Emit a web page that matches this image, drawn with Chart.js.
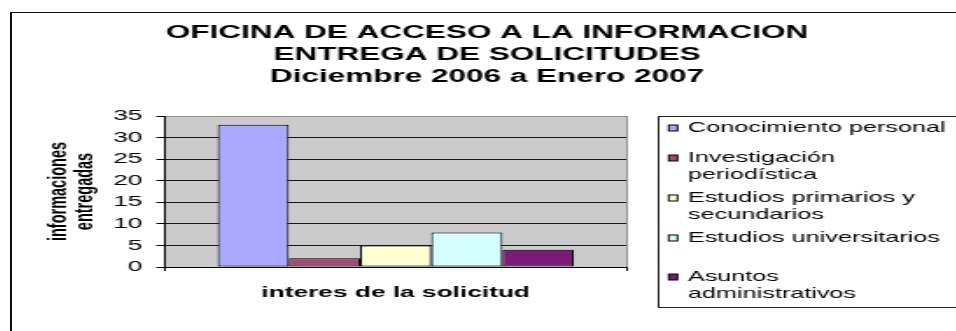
<!DOCTYPE html>
<html>
<head>
<meta charset="utf-8">
<script src="https://cdn.jsdelivr.net/npm/chart.js@4/dist/chart.umd.min.js"></script>
<style>
  html, body { margin: 0; padding: 0; background: #fff; overflow: hidden; width: 956px; height: 331px; }
  #frame { position: absolute; left: 10px; top: 12px; width: 1000px; height: 400px;
           border-left: 2px solid #111; border-top: 1px solid #111; box-sizing: border-box; }
  /* the sheet chart is drawn narrow and widened, as the spreadsheet export does */
  #wrap { position: absolute; left: 10px; top: 0; width: 545px; height: 331px;
          transform: scaleX(1.7505); transform-origin: 0 0; }
</style>
</head>
<body>
<div id="frame"></div>
<div id="wrap"><canvas id="c" width="545" height="331"></canvas></div>
<script>
// Chart text
const titleLines = ['OFICINA DE ACCESO A LA INFORMACION', 'ENTREGA DE SOLICITUDES', 'Diciembre 2006 a Enero 2007'];
const yAxisTitle = ['informaciones', 'entregadas'];
const xAxisTitle = 'interes de la solicitud';

// One category, one series per request interest
const categories = [''];
const seriesNames = [
  ['Conocimiento personal'],
  ['Investigación', 'periodística'],
  ['Estudios primarios y', 'secundarios'],
  ['Estudios universitarios'],
  ['Asuntos', 'administrativos']
];
const conocimientoPersonal = [33];
const investigacionPeriodistica = [2];
const estudiosPrimarios = [5];
const estudiosUniversitarios = [8];
const asuntosAdministrativos = [4];
const seriesValues = [conocimientoPersonal, investigacionPeriodistica, estudiosPrimarios, estudiosUniversitarios, asuntosAdministrativos];
const seriesColors = ['#A9AAFF', '#A44974', '#FFFFD5', '#D5FFFF', '#7B1A78'];

// y axis: 0 to 35 in steps of 5
const yMin = 0, yMax = 35, yStep = 5;

Chart.defaults.font.family = "'Liberation Sans', Arial, sans-serif";
Chart.defaults.color = '#000';

// grey plot area behind the bars
const plotBackground = {
  id: 'plotBackground',
  beforeDraw(chart) {
    const { ctx, chartArea: a } = chart;
    ctx.save();
    ctx.fillStyle = '#CBCBCB';
    ctx.fillRect(a.left, a.top, a.right - a.left, a.bottom - a.top);
    ctx.restore();
  }
};

// boxed legend at the right with wrapped series names
const boxedLegend = {
  id: 'boxedLegend',
  afterDraw(chart, args, o) {
    const { ctx, chartArea: a } = chart;
    const left = Math.round(a.right + o.gap);
    ctx.save();
    ctx.strokeStyle = '#222';
    ctx.lineWidth = 1;
    ctx.strokeRect(left + 0.5, o.top + 0.5, chart.width, o.bottom - o.top);
    ctx.font = o.font;
    ctx.textBaseline = 'middle';
    ctx.textAlign = 'left';
    chart.data.datasets.forEach((ds, i) => {
      const y = o.rowCenters[i];
      ctx.fillStyle = ds.backgroundColor;
      ctx.fillRect(left + o.swatchX, y - o.swatchH / 2, o.swatchW, o.swatchH);
      ctx.strokeStyle = '#000';
      ctx.strokeRect(left + o.swatchX, y - o.swatchH / 2, o.swatchW, o.swatchH);
      ctx.fillStyle = '#000';
      seriesNames[i].forEach((line, j) => ctx.fillText(line, left + o.textX, y + j * o.lineHeight));
    });
    ctx.restore();
  }
};

new Chart(document.getElementById('c'), {
  type: 'bar',
  data: {
    labels: categories,
    datasets: seriesValues.map((vals, i) => ({
      label: seriesNames[i].join(' '),
      data: vals,
      backgroundColor: seriesColors[i],
      borderColor: '#000',
      borderWidth: 1,
      borderSkipped: false,
      categoryPercentage: 0.772,
      barPercentage: 1
    }))
  },
  options: {
    responsive: false,
    animation: false,
    devicePixelRatio: 1,
    plugins: {
      legend: { display: false },
      tooltip: { enabled: false },
      title: {
        display: true,
        text: titleLines,
        color: '#000',
        font: { size: 18, weight: 'bold', lineHeight: 22 / 18 },
        padding: { top: 22, bottom: 28 }
      },
      boxedLegend: {
        gap: 17.7, top: 116, bottom: 307,
        font: "14.4px 'Liberation Sans', Arial, sans-serif",
        rowCenters: [128, 158, 198, 238, 277],
        lineHeight: 17,
        swatchX: 6.3, swatchW: 5, swatchH: 6,
        textX: 17.3
      }
    },
    scales: {
      x: {
        offset: true,
        ticks: { display: false },
        grid: {
          offset: true,
          drawOnChartArea: true,
          color: (c) => c.index === 0 ? 'rgba(0,0,0,0)' : '#8f8f8f',
          tickColor: '#000',
          tickLength: 4,
          lineWidth: 1
        },
        border: { color: '#000', width: 1 },
        title: {
          display: true,
          text: xAxisTitle,
          color: '#000',
          font: { size: 15, weight: 'bold', lineHeight: 18 / 15 },
          padding: { top: 13, bottom: 29 }
        },
        afterFit(scale) { scale.height = 64; }
      },
      y: {
        min: yMin,
        max: yMax,
        ticks: { stepSize: yStep, color: '#000', font: { size: 15 }, padding: 8 },
        grid: {
          color: (c) => c.tick && c.tick.value === yMax ? '#8f8f8f' : '#1a1a1a',
          tickColor: '#000',
          tickLength: 5,
          lineWidth: 1
        },
        border: { color: '#000', width: 1 },
        title: {
          display: true,
          text: yAxisTitle,
          color: '#000',
          font: { size: 14.5, weight: 'bold', lineHeight: 1.08 },
          padding: { top: 20, bottom: 4 }
        },
        afterFit(scale) { scale.width = 88.6; }
      },
      // empty right-hand band that keeps room for the boxed legend
      legendSpace: {
        type: 'linear',
        position: 'right',
        display: true,
        ticks: { display: false },
        grid: { display: false },
        border: { display: false },
        afterFit(scale) { scale.width = 193; }
      }
    }
  },
  plugins: [plotBackground, boxedLegend]
});
</script>
</body>
</html>
